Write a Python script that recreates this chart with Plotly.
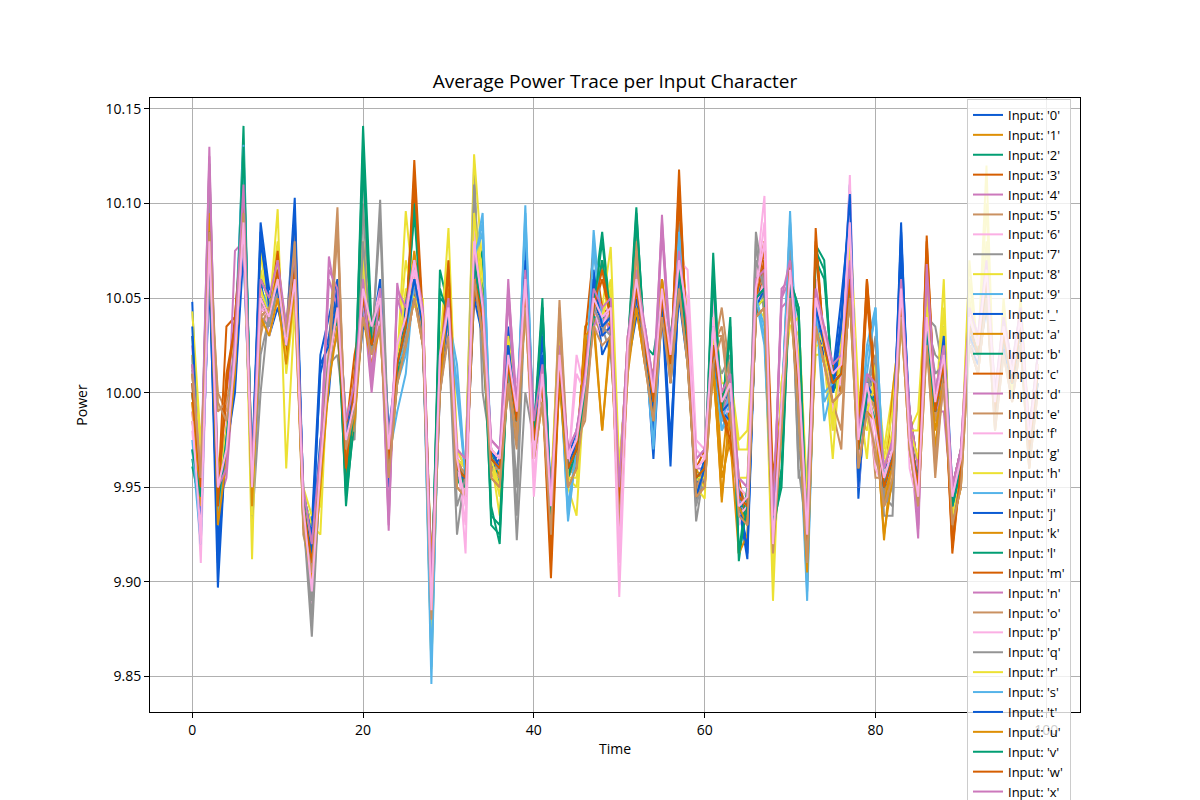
import plotly.graph_objects as go

# ---------------- data ----------------
TIME = list(range(100))

LABELS = ["0", "1", "2", "3", "4", "5", "6", "7", "8", "9", "_",
          "a", "b", "c", "d", "e", "f", "g", "h", "i", "j", "k", "l", "m",
          "n", "o", "p", "q", "r", "s", "t", "u", "v", "w", "x", "y", "z"]

COLORS = ["#0b5bd3", "#de8f05", "#029e73", "#d55e00", "#cc78bc",
          "#ca9161", "#fbafe4", "#949494", "#ece133", "#56b4e9"]

BASE_POWER = 10.0
# Each series: power, in thousandths of a unit relative to 10.0
p_0 = [48, -75, 70, -103, -20, 5, 85, -40, 90, 55,
       50, 30, 103, -55, -70, 20, 40, 60, -30, 0,
       45, 30, 40, -50, 20, 45, 55, 30, -120, 0,
       35, -45, -50, 60, 35, -40, -30, 25, -10, 80,
       -20, 15, -60, 20, -45, -25, 5, 60, 30, 35,
       -55, 25, 50, 30, -35, 45, -39, 60, 20, -58,
       -45, 20, -5, -10, -60, -88, 45, 60, -70, -5,
       55, 10, -85, 40, 30, 0, 25, 110, -56, 10,
       0, -45, -40, 90, -30, -45, 30, -5, 25, -65,
       -35, 30, 15, 50, -15, 25, 10, 40, -25, 5]
p_1 = [0, -50, 95, -65, -30, 25, 105, -45, 40, 35,
       55, 20, 70, -62, -85, -45, 10, 40, -35, -10,
       55, 20, 50, -30, 10, 30, 65, 40, -105, 15,
       50, -35, -40, 75, 35, -30, -45, 10, -20, 50,
       -30, 0, -60, 10, -35, -35, -5, 40, 40, 35,
       -65, 15, 60, 20, 0, 55, 20, 70, 30, -40,
       -35, 30, -40, 5, -50, -65, 55, 50, -80, -15,
       65, -5, -75, 50, 20, 10, 5, 55, -25, 5,
       -10, -78, -30, 45, -15, -55, 40, -15, 10, -55,
       -45, 40, 25, 65, -5, 35, 0, 30, -35, 15]
p_2 = [-39, -60, 80, -55, -25, 15, 141, -55, 55, 45,
       65, 30, 60, -58, -95, -35, 20, 50, -60, -10,
       141, 35, 55, -40, 5, 40, 106, 30, -115, 65,
       45, -45, -55, 70, 50, -30, -50, 20, -10, 60,
       -20, 50, -70, 10, -45, -35, 0, 50, 85, 40,
       -60, 25, 98, 20, -10, 45, 25, 60, 30, -50,
       -45, 74, -15, 40, -89, -55, 45, 50, -70, -50,
       60, 45, -80, 78, 70, 0, 15, 55, -35, 0,
       0, -50, -30, 55, -15, -45, 30, -15, 20, -55,
       -40, 30, 25, 55, -15, 30, 10, 35, -30, 10]
p_3 = [10, -45, 90, -65, 0, 40, 95, -50, 45, 40,
       70, 25, 60, -65, -80, -50, 10, 40, -40, 0,
       45, 20, 50, -35, 20, 30, 123, 40, -100, 5,
       60, -35, -45, 60, 30, -40, -35, 10, -20, 45,
       -15, 0, -98, 10, -40, -25, 5, 40, 70, 35,
       -50, 20, 50, 25, 0, 50, 10, 118, 20, -45,
       -40, 20, -10, -30, -50, -65, 60, 80, -45, -5,
       70, 5, -75, 87, 20, 10, 5, 55, -30, 60,
       -5, -55, -30, 45, -25, -50, 83, -10, 15, -85,
       -40, 40, 20, 60, -10, 30, 5, 35, -25, 10]
p_4 = [25, -55, 130, -60, -45, 15, 90, -50, 40, 35,
       60, 20, 55, -60, -100, -40, 72, 45, -20, 0,
       50, 0, 45, -73, 58, 30, 50, 35, -110, 10,
       30, -40, -45, 80, 40, -35, -40, 60, -15, 50,
       -25, 5, -65, 15, -40, -30, 0, 45, 35, 50,
       -60, 20, 55, 30, -5, 94, 15, 65, 25, -40,
       -40, 25, -10, 0, -55, -60, 50, 55, -75, 55,
       60, 0, -80, 45, 25, 5, 10, 70, -30, 0,
       -5, -50, -35, 60, -20, -77, 70, -10, -10, -60,
       -40, 35, 20, 60, -10, 30, 5, 35, -30, 10]
p_5 = [15, -40, 70, 0, -10, 10, 95, -45, 30, 50,
       55, 35, 90, -75, -95, -30, 25, 98, -40, -20,
       60, 40, 30, -30, 10, 40, 55, 25, -100, 0,
       35, -30, -40, 65, 45, -45, -35, 0, -30, 60,
       -30, 10, -60, 49, -35, -25, -15, 40, 30, 45,
       -55, 25, 85, 20, 5, 55, 10, 60, 20, -55,
       -35, 20, 45, 10, -60, -55, 45, 60, -70, -20,
       55, 5, -85, 40, 30, -10, -30, 65, -25, 10,
       -45, -45, -40, 45, -20, -45, 30, -45, 10, -60,
       -35, 30, 15, 55, -15, 25, 0, 40, -35, 5]
p_6 = [-5, -90, 80, -50, -35, 20, 85, -55, 40, 35,
       60, 30, 45, -60, -113, -45, 20, 30, -20, -10,
       55, 25, 35, -40, 20, 30, 65, 40, -125, 10,
       40, -25, -85, 90, 40, -40, -45, 20, -15, 50,
       -55, 10, -80, 20, -40, 20, 0, 35, 30, 50,
       -108, 15, 55, 30, -5, 45, 20, 70, 65, -25,
       -30, 50, -5, -20, -70, -55, 60, 104, -90, 0,
       55, 35, -70, 60, 15, -20, 10, 115, -50, 0,
       -40, -50, -35, 60, -40, -60, 35, -10, 15, -60,
       -40, 35, 15, 65, -10, 30, 5, 40, -30, 10]
p_7 = [12, -50, 121, -45, -20, 25, 110, -70, 0, 45,
       50, 20, 60, -65, -129, -40, 15, 20, -20, -25,
       100, 20, 102, -30, 10, 35, 60, 30, -90, 5,
       30, -75, -40, 121, 0, -30, -40, 20, -78, 0,
       -25, 5, -60, 15, -30, -30, 10, 40, 35, 20,
       -40, 20, 50, 30, 0, 50, 15, 65, 30, -68,
       -40, 25, 10, 20, -50, -60, 80, 40, -50, -10,
       90, -45, -45, 40, 30, 5, 0, 70, -30, 0,
       30, -65, -65, 55, -25, -50, 40, 35, 10, -65,
       -45, 30, 20, 60, -10, 30, 5, 35, -30, 10]
p_8 = [43, -27, 55, -40, -15, 10, 110, -88, 75, 40,
       97, -40, 45, -55, -70, -75, 25, 40, -25, -20,
       80, 30, 40, -45, 15, 96, 50, 40, -146, 20,
       87, -30, -40, 126, 65, -35, -65, 25, -10, 55,
       -30, 0, -50, 40, -50, -65, 10, 50, 45, 77,
       -40, 20, 75, 25, -20, 50, 15, 85, 40, -50,
       -56, 40, 0, 10, -25, -20, 45, 40, -110, 5,
       35, 40, -55, 20, 20, -35, 30, 90, 0, -35,
       20, -30, 0, 40, -20, -10, 60, -15, 60, -80,
       -40, 70, 20, 120, -20, 50, 0, 50, -20, 20]
p_9 = [-30, -80, 85, -75, -25, 30, 131, -50, 55, 45,
       60, 25, 60, -60, -100, -40, 10, 45, -30, -5,
       40, 25, 40, -35, -10, 10, 60, 35, -154, 25,
       40, 15, -45, 70, 95, -40, -40, 15, -15, 99,
       -25, 10, -65, 15, -68, -30, 0, 86, 35, 40,
       -60, 20, 55, 25, -30, 50, 15, 90, 25, -45,
       -40, 25, -20, -10, -55, -60, 50, 25, -75, -10,
       96, -10, -110, 45, -15, 5, 10, 60, -30, 25,
       45, -50, -35, 50, -20, -50, 35, -10, 15, -60,
       -40, 35, 20, 60, -10, 30, 5, 35, -30, 10]
p_us = [20, -65, 60, -80, -30, 0, 75, -45, 60, 30,
        45, 25, 75, -50, -80, -25, 0, 55, -15, -5,
        35, 30, 60, -20, 15, 50, 55, 25, -105, 15,
        35, -40, -50, 50, 30, -30, -40, 35, -20, 65,
        -20, 40, -55, 5, -35, -20, 5, 65, 20, 30,
        -55, 15, 40, 35, -5, 60, 5, 50, 15, -50,
        -35, 20, -15, 5, -50, -70, 40, 70, -65, -15,
        50, 5, -75, 35, 20, 10, 50, 95, -40, 5,
        5, -40, -25, 70, -10, -40, 25, -5, 35, -50,
        -30, 25, 15, 45, -5, 20, 10, 25, -20, 0]
p_a = [-15, -45, 90, -55, -30, 30, 95, -55, 35, 40,
       55, 30, 65, -60, -85, -45, 15, 40, -35, 10,
       40, 30, 45, -30, 15, 25, 70, 45, -95, 5,
       65, -45, -40, 65, 45, -30, -35, 10, -15, 55,
       -20, 0, -50, 20, -40, -35, 35, 40, -20, 35,
       -70, 25, 50, 20, 10, 60, 25, 70, 15, -40,
       -50, 20, -58, -5, -50, -55, 45, 50, -80, -5,
       60, 10, -90, 30, 35, 0, 20, 50, -25, -5,
       -15, -55, 0, 40, -25, -45, 30, 0, 20, -70,
       -50, 40, 25, 55, -5, 35, 0, 35, -40, 15]
p_b = [0, -50, 90, -60, -20, 25, 115, -40, 50, 40,
       60, 20, 70, -62, -90, -40, 20, 40, -40, -5,
       60, 25, 50, -35, 20, 35, 60, 40, -110, 30,
       40, -45, -45, 60, 75, -60, -80, 20, -15, 50,
       -25, 5, -60, 10, -40, -40, 0, 40, 40, 40,
       -60, 15, 60, 30, 5, 45, 30, 60, 20, -45,
       -40, 20, -10, 0, -60, -60, 45, 60, -75, -20,
       60, 10, -80, 50, 30, 0, 10, 60, -30, 0,
       -15, -45, -40, 45, -15, -50, 30, -5, 15, -60,
       -40, 35, 20, 60, -10, 30, 5, 35, -30, 10]
p_c = [-10, -50, 80, -55, 35, 40, 100, -45, 40, 45,
       65, 30, 60, -55, -85, -35, 10, 50, -20, 20,
       45, 35, 40, -40, 15, 40, 55, 30, -105, 10,
       35, -35, -50, 50, 45, -35, -40, 15, -20, 55,
       -30, 5, -60, 15, -30, -30, 30, 75, 45, 40,
       -50, 30, 45, 15, 5, 35, 25, 55, 35, -40,
       -30, 15, 0, -15, -45, -70, 40, 65, -65, -20,
       50, 15, -70, 35, 15, 15, 0, 50, -20, 60,
       5, -40, -25, 40, -10, -40, 25, 0, 5, -50,
       -30, 25, 10, 50, 0, 20, 15, 25, -20, 0]
p_d = [5, -55, 95, -65, -35, 75, 80, -50, 50, 35,
       55, 25, 65, -60, -90, -40, 15, 45, -25, -5,
       40, 30, 35, -25, 25, 25, 50, 45, -100, 20,
       30, -30, -35, 60, 50, -25, -30, 5, -5, 45,
       -15, 15, -55, 25, -30, -20, 10, 35, 45, 30,
       -50, 30, 45, 35, 5, 40, 25, 55, 35, -35,
       -30, 35, 0, 10, -45, -50, 40, 45, -65, 45,
       50, 10, -70, 35, 35, 15, 20, 50, -20, 10,
       5, -40, -25, 40, -10, -40, 65, 0, 25, -50,
       -30, 45, 30, 70, 0, 40, 15, 45, -20, 20]
p_e = [15, -45, 75, -50, -30, 15, 105, -55, 45, 40,
       65, 20, 60, -65, -95, -45, 20, 40, -30, -10,
       55, 30, 40, -40, 10, 40, 65, 30, -115, 5,
       45, -40, -50, 75, 35, -40, -45, 15, -20, 60,
       -20, 0, -70, 15, -45, -35, -5, 50, 30, 45,
       -65, 15, 60, 20, -10, 55, 10, 70, 20, -50,
       -45, 30, 30, 5, -60, -65, 55, 60, -70, -15,
       65, 5, -85, 50, 30, 10, 15, 55, -35, 5,
       -10, -55, -40, 45, -25, -55, 40, -15, 20, -55,
       -45, 30, 25, 55, -15, 35, 0, 30, -35, 15]
p_f = [-20, -70, 70, -55, -15, 20, 90, -45, 55, 30,
       50, 30, 55, -55, -95, -35, 25, 35, -25, 0,
       45, 35, 55, -35, 15, 30, 65, 40, -120, 15,
       35, -40, -55, 65, 45, -30, -35, 20, 5, 45,
       -30, 10, -60, 20, -35, -25, 5, 45, 30, 35,
       -55, 20, 50, 30, 0, 45, 20, 60, 30, -40,
       -35, 30, -15, -5, -50, -55, 45, 60, -80, -15,
       55, 5, -75, 55, 25, 10, 5, 55, -25, 5,
       0, -45, -30, 45, -20, -45, 40, -5, 20, -55,
       -35, 40, 25, 55, -5, 35, 10, 30, -25, 15]
p_g = [5, -50, 100, -50, -20, 20, 95, -60, 40, 35,
       55, 25, 60, -70, -110, -45, 15, 35, -20, -5,
       50, 30, 45, -30, 15, 30, 55, 35, -100, 10,
       40, -45, -45, 80, 35, -35, -40, 15, -65, 55,
       -25, 5, -65, 15, -40, -30, 0, 45, 35, 40,
       -55, 20, 50, 25, -5, 50, 15, 60, 25, -45,
       -40, 25, -10, 15, -55, -60, 85, 55, -70, -10,
       80, -40, -75, 45, 25, 5, 10, 65, -30, 0,
       10, -55, -60, 50, -20, -50, 35, 20, 15, -75,
       -40, 35, 20, 60, -10, 30, 5, 35, -30, 10]
p_h = [30, -35, 65, -45, -20, 15, 100, -60, 65, 45,
       80, 10, 50, -50, -65, -60, 20, 50, -20, -15,
       70, 25, 45, -45, 20, 70, 45, 50, -130, 25,
       70, -30, -35, 100, 60, -35, -55, 30, -10, 50,
       -20, 5, -55, 35, -45, -50, 5, 55, 40, 60,
       -45, 25, 70, 30, -15, 45, 20, 75, 35, -45,
       -50, 35, 5, 5, -30, -30, 40, 45, -95, 5,
       40, 30, -60, 25, 25, -20, 25, 80, -10, -20,
       15, -35, -10, 45, -20, -20, 55, -10, 45, -70,
       -40, 60, 20, 100, -15, 45, 0, 45, -25, 15]
p_i = [-25, -75, 80, -70, -30, 25, 120, -45, 50, 45,
       60, 20, 60, -60, -95, -35, 10, 45, -30, -5,
       45, 25, 40, -35, 5, 20, 60, 35, -140, 20,
       40, 5, -45, 70, 85, -40, -40, 15, -15, 90,
       -25, 10, -65, 15, -60, -30, 0, 75, 35, 40,
       -60, 20, 55, 25, -25, 50, 15, 80, 25, -45,
       -40, 25, -20, -5, -55, -60, 50, 30, -75, -10,
       85, -5, -100, 45, -5, 5, 10, 60, -30, 20,
       40, -50, -35, 50, -20, -50, 35, -10, 15, -60,
       -40, 35, 20, 60, -10, 30, 5, 35, -30, 10]
p_j = [35, -60, 75, -85, -25, 10, 90, -40, 80, 50,
       55, 30, 90, -55, -75, 10, 30, 55, -25, 5,
       40, 25, 45, -45, 15, 40, 50, 30, -115, 5,
       30, -45, -45, 55, 35, -40, -35, 20, -15, 70,
       -20, 20, -60, 10, -40, -25, 5, 55, 30, 35,
       -55, 20, 50, 25, -20, 50, -25, 55, 20, -55,
       -40, 20, -10, -15, -60, -80, 45, 55, -65, -10,
       55, 5, -80, 40, 25, 0, 35, 100, -45, 5,
       -5, -40, -35, 80, -25, -45, 30, -10, 20, -60,
       -35, 30, 20, 50, -10, 25, 5, 35, -25, 5]
p_k = [-5, -45, 85, -60, -25, 25, 90, -50, 45, 40,
       60, 25, 65, -60, -85, -50, 15, 45, -25, 0,
       50, 25, 45, -35, 15, 35, 75, 40, -100, 10,
       55, -40, -45, 75, 40, -35, -40, 15, -15, 55,
       -25, 5, -55, 15, -40, -30, 25, 45, 35, 40,
       -80, 20, 55, 25, -5, 60, 20, 70, 25, -45,
       -40, 10, -45, -25, -85, -75, 50, 55, -85, -10,
       60, 0, -100, 45, 25, 5, 10, 60, -30, 0,
       -5, -60, -35, 50, -20, -50, 35, -30, 15, -60,
       -40, 35, 20, 60, -10, 30, 5, 35, -30, 10]
p_l = [-35, -65, 80, -55, -25, 15, 125, -45, 60, 50,
       65, 35, 60, -55, -90, -30, 20, 40, -55, -15,
       120, 30, 50, -35, 10, 40, 95, 30, -110, 50,
       45, -40, -50, 75, 55, -70, -75, 25, -15, 60,
       -25, 45, -60, 15, -45, -30, -5, 45, 70, 40,
       -60, 25, 90, 25, 20, 50, 30, 65, 25, -45,
       -45, 60, -10, 30, -85, -50, 45, 50, -70, -40,
       60, 40, -80, 70, 60, 5, 10, 60, -30, 0,
       -5, -50, -35, 50, -20, -50, 35, -10, 15, -60,
       -40, 35, 20, 60, -10, 30, 5, 35, -30, 10]
p_m = [5, -55, 85, -60, 5, 35, 100, -50, 45, 40,
       75, 20, 65, -60, -85, -40, 15, 45, -45, 10,
       50, 25, 45, -35, 15, 35, 110, 35, -105, 10,
       70, -40, -45, 55, 40, -35, -40, 15, -15, 55,
       -25, 5, -85, 15, -40, -30, 20, 45, 60, 40,
       -60, 20, 55, 25, -5, 50, 15, 100, 25, -45,
       -40, 25, -10, -20, -55, -60, 50, 70, -60, -10,
       75, 0, -80, 75, 25, 5, 10, 60, -30, 50,
       -5, -50, -35, 50, -20, -50, 75, -10, 15, -80,
       -40, 35, 20, 60, -10, 30, 5, 35, -30, 10]
p_n = [20, -55, 120, -60, -40, 20, 95, -50, 45, 40,
       60, 25, 65, -60, -95, -40, 60, 45, -25, -5,
       50, 5, 45, -65, 50, 35, 60, 35, -110, 10,
       40, -40, -45, 70, 40, -35, -40, 50, -15, 55,
       -25, 5, -65, 15, -40, -30, 0, 45, 35, 40,
       -60, 20, 55, 25, -5, 85, 15, 65, 25, -45,
       -40, 25, -10, 0, -55, -60, 50, 55, -75, 50,
       60, 0, -80, 45, 25, 5, 10, 65, -30, 0,
       -5, -50, -35, 55, -20, -70, 65, -10, 0, -60,
       -40, 35, 20, 60, -10, 30, 5, 35, -30, 10]
p_o = [10, -45, 80, -10, -5, 15, 100, -50, 35, 45,
       60, 30, 85, -70, -90, -35, 20, 90, -35, -15,
       55, 35, 35, -35, 15, 35, 60, 30, -105, 5,
       40, -35, -45, 65, 40, -40, -40, 10, -25, 55,
       -25, 5, -65, 45, -40, -30, -10, 45, 35, 40,
       -60, 20, 80, 25, 0, 50, 15, 65, 25, -50,
       -40, 25, 35, 5, -55, -60, 50, 55, -75, -10,
       60, 0, -80, 45, 25, -5, -20, 60, -30, 0,
       -35, -50, -35, 50, -20, -50, 35, -40, 15, -60,
       -40, 35, 20, 60, -10, 30, 5, 35, -30, 10]
p_p = [-10, -80, 75, -50, -30, 20, 85, -50, 45, 40,
       60, 25, 50, -60, -100, -40, 15, 35, -25, -5,
       50, 25, 40, -35, 15, 35, 60, 35, -120, 10,
       40, -35, -70, 85, 40, -35, -40, 20, -15, 50,
       -45, 5, -70, 15, -40, 10, 0, 45, 35, 45,
       -90, 20, 55, 25, -5, 50, 15, 65, 50, -30,
       -35, 40, -10, -10, -65, -60, 55, 90, -85, -10,
       60, 20, -75, 55, 25, -10, 10, 100, -40, 0,
       -30, -50, -35, 55, -30, -55, 35, -10, 15, -60,
       -40, 35, 20, 60, -10, 30, 5, 35, -30, 10]
p_q = [0, -50, 110, -50, -20, 25, 105, -65, 20, 40,
       55, 25, 60, -60, -120, -40, 15, 30, -20, -20,
       80, 25, 90, -30, 15, 35, 60, 35, -95, 10,
       40, -60, -45, 110, 20, -35, -40, 15, -50, 55,
       -25, 5, -65, 15, -40, -30, 0, 45, 35, 30,
       -50, 20, 55, 25, -5, 50, 15, 65, 25, -60,
       -40, 25, -10, 10, -55, -60, 70, 55, -60, -10,
       75, -30, -60, 45, 25, 5, 10, 65, -30, 0,
       20, -60, -50, 50, -20, -50, 35, 10, 15, -70,
       -40, 35, 20, 60, -10, 30, 5, 35, -30, 10]
p_r = [20, -40, 75, -55, -20, 15, 100, -65, 55, 40,
       70, 15, 55, -60, -80, -50, 15, 45, -25, -10,
       60, 25, 45, -40, 15, 55, 50, 40, -130, 15,
       60, -35, -40, 95, 50, -35, -50, 20, -15, 55,
       -25, 5, -60, 25, -45, -45, 5, 50, 40, 55,
       -50, 20, 65, 25, -10, 50, 15, 75, 30, -45,
       -45, 30, -5, 5, -45, -45, 45, 50, -90, 0,
       50, 20, -70, 35, 25, -15, 20, 75, -20, -10,
       5, -40, -20, 45, -20, -35, 45, -10, 35, -65,
       -40, 50, 20, 80, -10, 40, 5, 45, -30, 15]
p_s = [-30, -70, 85, -65, -25, 25, 125, -50, 50, 40,
       60, 25, 60, -60, -95, -40, 15, 45, -25, -5,
       50, 25, 45, -35, 15, 25, 60, 35, -145, 15,
       40, 0, -45, 70, 90, -35, -40, 15, -15, 95,
       -25, 5, -65, 15, -65, -30, 0, 80, 35, 40,
       -60, 20, 55, 25, -28, 50, 15, 85, 25, -45,
       -40, 25, -15, 0, -55, -60, 50, 35, -75, -10,
       90, 0, -105, 45, 0, 5, 10, 60, -30, 10,
       45, -50, -35, 50, -20, -50, 35, -10, 15, -60,
       -40, 35, 20, 60, -10, 30, 5, 35, -30, 10]
p_t = [30, -70, 80, -90, -25, 15, 95, -45, 85, 45,
       55, 25, 95, -60, -85, 15, 25, 50, -25, 0,
       50, 25, 45, -40, 15, 35, 60, 35, -110, 10,
       40, -40, -45, 70, 40, -35, -40, 25, -15, 65,
       -25, 30, -65, 15, -40, -30, 0, 60, 35, 40,
       -60, 20, 55, 25, -10, 50, -30, 65, 25, -55,
       -40, 25, -10, -5, -55, -85, 50, 55, -75, -10,
       60, 0, -80, 45, 25, 5, 40, 105, -50, 0,
       -5, -50, -35, 85, -20, -50, 35, -10, 30, -60,
       -40, 35, 20, 60, -10, 30, 5, 35, -30, 10]
p_u = [-5, -60, 95, -70, -35, 10, 110, -60, 40, 30,
       50, 15, 55, -70, -100, -50, 5, 35, -35, -15,
       40, 15, 35, -45, 5, 25, 50, 25, -90, 0,
       55, -50, -55, 60, 30, -45, -50, 5, -25, 45,
       -35, -5, -75, 5, -50, -40, 30, 35, -20, 30,
       -70, 10, 45, 15, -15, 55, 5, 55, 15, -55,
       -50, 15, -55, -10, -60, -70, 40, 45, -80, -20,
       50, -10, -95, 35, 15, -5, 0, 50, -40, -10,
       -15, -75, -45, 40, -30, -60, 25, -20, 5, -70,
       -50, 25, 10, 50, -20, 20, -5, 25, -40, 0]
p_v = [-30, -55, 85, -60, -25, 20, 130, -50, 50, 40,
       60, 25, 65, -60, -90, -40, 15, 45, -50, -5,
       130, 25, 45, -35, 15, 35, 100, 35, -110, 55,
       40, -40, -45, 70, 40, -65, -70, 15, -15, 55,
       -25, 45, -65, 15, -40, -30, 0, 45, 80, 40,
       -60, 20, 95, 25, -5, 50, 25, 65, 25, -45,
       -40, 65, -10, 35, -85, -60, 50, 55, -75, -45,
       60, 45, -80, 75, 65, 5, 10, 60, -30, 0,
       -5, -50, -35, 50, -20, -50, 35, -10, 15, -60,
       -40, 35, 20, 60, -10, 30, 5, 35, -30, 10]
p_w = [0, -50, 85, -60, 10, 35, 100, -50, 50, 40,
       65, 25, 65, -60, -90, -40, 15, 45, -40, 5,
       50, 25, 45, -35, 15, 35, 115, 35, -100, 10,
       65, -40, -45, 60, 40, -35, -40, 15, -15, 55,
       -25, 5, -90, 15, -40, -30, 15, 45, 65, 40,
       -60, 20, 55, 25, -5, 50, 15, 110, 25, -45,
       -40, 25, -10, -25, -55, -60, 55, 75, -55, -10,
       70, 0, -80, 80, 25, 5, 10, 60, -30, 55,
       -5, -50, -35, 50, -20, -50, 80, -10, 15, -82,
       -40, 35, 20, 60, -10, 30, 5, 35, -30, 10]
p_x = [15, -45, 125, -50, -40, 30, 110, -40, 60, 50,
       70, 35, 75, -50, -80, -30, 65, 55, -15, 5,
       60, 10, 55, -70, 55, 45, 70, 45, -100, 20,
       50, -30, -35, 75, 50, -25, -30, 55, -5, 65,
       -15, 15, -55, 25, -30, -20, 10, 55, 45, 50,
       -50, 30, 65, 35, 5, 90, 25, 75, 35, -35,
       -30, 35, 0, 10, -45, -50, 60, 65, -65, 50,
       70, 10, -70, 55, 35, 15, 20, 70, -20, 10,
       5, -40, -25, 60, -10, -72, 68, 0, 25, -50,
       -30, 45, 30, 70, 0, 40, 15, 45, -20, 20]
p_y = [10, -45, 85, -5, -15, 15, 95, -50, 40, 45,
       60, 30, 80, -70, -95, -40, 15, 85, -30, -10,
       40, 20, 35, -45, 5, 25, 50, 25, -120, 0,
       30, -50, -55, 60, 30, -45, -50, 5, -25, 45,
       -35, -5, -75, 40, -50, -40, -5, 35, 25, 30,
       -70, 10, 75, 15, -15, 40, 5, 55, 15, -55,
       -50, 15, 30, -10, -65, -70, 40, 45, -85, -20,
       50, -10, -90, 35, 15, -5, 0, 50, -40, -10,
       -30, -60, -45, 40, -30, -60, 25, -35, 5, -70,
       -50, 25, 10, 50, -20, 20, -5, 25, -40, 0]
p_z = [-15, -75, 80, -50, -30, 20, 90, -50, 50, 40,
       60, 25, 60, -60, -105, -40, 15, 45, -25, -5,
       55, 35, 50, -30, 25, 40, 70, 40, -115, 20,
       45, -35, -60, 80, 45, -30, -35, 20, -10, 60,
       -35, 10, -60, 20, -35, -25, 5, 50, 40, 45,
       -85, 25, 60, 30, 0, 55, 20, 70, 40, -40,
       -35, 35, -5, 5, -60, -55, 55, 80, -80, -5,
       65, 10, -75, 50, 30, 10, 15, 90, -25, 5,
       -20, -45, -30, 55, -25, -55, 40, -5, 20, -55,
       -35, 40, 25, 65, -5, 35, 10, 40, -25, 15]

SERIES = [p_0, p_1, p_2, p_3, p_4, p_5, p_6, p_7, p_8, p_9, p_us,
          p_a, p_b, p_c, p_d, p_e, p_f, p_g, p_h, p_i, p_j, p_k, p_l, p_m,
          p_n, p_o, p_p, p_q, p_r, p_s, p_t, p_u, p_v, p_w, p_x, p_y, p_z]

# ---------------- figure ----------------
FONT = "Open Sans, Lato, sans-serif"

fig = go.Figure()
all_y = []
for i, (lab, vals) in enumerate(zip(LABELS, SERIES)):
    y = [BASE_POWER + v / 1000.0 for v in vals]
    all_y.extend(y)
    fig.add_trace(go.Scatter(
        x=TIME, y=y, mode="lines", name=f"Input: '{lab}'",
        line=dict(color=COLORS[i % len(COLORS)], width=2),
    ))

ymin, ymax = min(all_y), max(all_y)
ypad = 0.05 * (ymax - ymin)
xmin, xmax = min(TIME), max(TIME)
xpad = 0.05 * (xmax - xmin)

axis_common = dict(
    showline=True, linecolor="black", linewidth=1, mirror=True,
    ticks="outside", ticklen=5, tickwidth=1, tickcolor="black",
    showgrid=True, gridcolor="#b0b0b0", gridwidth=1, zeroline=False,
    tickfont=dict(family=FONT, size=14, color="black"),
)

fig.update_layout(
    width=1200, height=800,
    paper_bgcolor="white", plot_bgcolor="white",
    margin=dict(l=150, r=120, t=98, b=88, autoexpand=False),
    font=dict(family=FONT, color="black"),
    title=dict(text="Average Power Trace per Input Character",
               font=dict(family=FONT, size=19, color="black"),
               x=0.5, xref="paper", xanchor="center",
               y=1 - 81 / 800, yref="container", yanchor="middle"),
    xaxis=dict(range=[xmin - xpad, xmax + xpad], tick0=0, dtick=20,
               title=dict(text="Time", font=dict(family=FONT, size=14, color="black"), standoff=6),
               **axis_common),
    yaxis=dict(range=[ymin - ypad, ymax + ypad], tick0=9.85, dtick=0.05, tickformat=".2f",
               title=dict(text="Power", font=dict(family=FONT, size=14, color="black"), standoff=14),
               **axis_common),
    showlegend=True,
    legend=dict(x=(967 - 150) / 930, y=(712 - 99) / 614, xanchor="left", yanchor="top",
                bgcolor="rgba(255,255,255,0.8)", bordercolor="#cccccc", borderwidth=1,
                font=dict(family=FONT, size=13, color="black"),
                itemwidth=30, maxheight=1000, tracegroupgap=0),
)

fig.write_html("out.html")
